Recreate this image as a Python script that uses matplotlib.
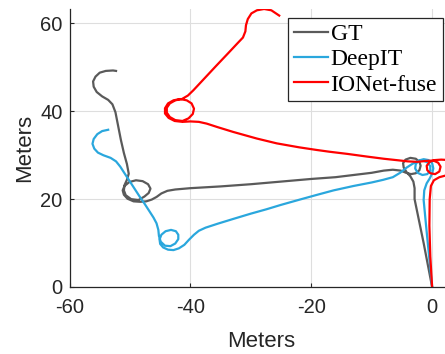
import matplotlib
matplotlib.use('Agg')
import matplotlib.pyplot as plt

matplotlib.rcParams['axes.unicode_minus'] = False  # plain hyphen like the original

# trajectories in meters
gt_x = [0, -1.4, -2.9, -2.9, -3.1, -3.6, -4.2, -4.7, -4.8, -4.4, -3.6, -2.7, -2.1, -1.9,
        -2.1, -2.7, -3.5, -4.3, -5.2, -6.5, -8.0, -10.0, -13.0, -16.0, -20.0, -25.0,
        -30.0, -35.0, -40.0, -42.5, -43.8, -44.8, -45.6, -46.4, -47.3, -48.3, -49.4,
        -50.4, -51.0, -51.2, -50.9, -50.1, -49.0, -47.9, -47.0, -46.6, -46.9, -47.6,
        -48.6, -49.8, -50.7, -51.0, -50.9, -50.5, -50.2, -50.5, -51.0, -51.5, -52.0,
        -52.4, -52.9, -53.6, -54.6, -55.5, -56.0, -56.1, -55.7, -55.0, -54.0, -52.8, -52.3]
gt_y = [0, 10.0, 20.0, 22.5, 24.0, 25.2, 26.1, 27.2, 28.2, 29.0, 29.4, 29.2, 28.5, 27.6,
        26.6, 25.9, 25.7, 26.0, 26.5, 26.7, 26.5, 26.0, 25.5, 25.0, 24.6, 24.0,
        23.4, 22.9, 22.5, 22.2, 21.9, 21.3, 20.5, 19.9, 19.5, 19.4, 19.5,
        20.1, 21.0, 22.0, 23.0, 23.9, 24.3, 24.1, 23.4, 22.4, 21.4, 20.6,
        19.8, 20.0, 20.9, 22.0, 23.2, 24.4, 25.8, 28.0, 30.5, 33.5, 37.0,
        39.8, 41.6, 42.6, 43.4, 44.4, 45.6, 46.8, 47.9, 48.8, 49.2, 49.3, 49.2]

deepit_x = [0, -0.5, -1.0, -1.4, -1.3, -0.9, -0.4, 0.0, 0.2, 0.0, -0.6, -1.4, -2.2, -2.7,
            -2.8, -2.4, -1.6, -0.8, -0.3, -0.3, -0.8, -1.6, -2.5, -3.3, -4.2, -5.3,
            -6.5, -8.1, -10.0, -13.0, -16.3, -19.0, -21.9, -25.0, -27.4, -30.0, -32.9,
            -35.5, -37.5, -38.6, -39.4, -40.2, -41.0, -41.9, -42.8, -43.7, -44.5, -45.0,
            -45.1, -44.8, -44.1, -43.2, -42.4, -42.0, -42.0, -42.5, -43.3, -44.2, -44.9,
            -45.2, -45.3, -45.6, -46.1, -46.8, -47.6, -48.4, -49.2, -50.0, -50.9, -51.6,
            -52.3, -53.2, -54.4, -55.3, -55.9, -56.2, -56.0, -55.4, -54.6, -53.6]
deepit_y = [0, 7.0, 14.0, 19.8, 22.0, 23.6, 24.7, 25.8, 27.0, 28.2, 28.9, 29.1, 28.8, 28.0,
            27.0, 26.0, 25.5, 25.7, 26.5, 27.5, 28.4, 28.8, 28.6, 28.0, 27.2, 26.0,
            25.0, 24.4, 23.8, 23.0, 22.0, 21.0, 19.9, 18.7, 17.7, 16.7, 15.5,
            14.4, 13.5, 12.8, 11.9, 10.8, 9.6, 8.8, 8.4, 8.5, 9.0, 9.8,
            10.8, 11.9, 12.7, 13.0, 12.7, 11.9, 10.9, 9.9, 9.3, 9.4, 10.3,
            11.6, 13.0, 14.5, 15.8, 17.3, 19.0, 20.6, 22.3, 24.0, 25.9, 27.4,
            28.6, 29.4, 30.0, 30.6, 31.5, 32.6, 33.7, 34.8, 35.5, 35.8]

ionet_x = [0, -0.3, -0.45, -0.4, -0.2, 0.3, 1.2, 2.3, 3.3, 3.9, 3.6, 2.8, 1.5, 0.5, -0.4,
           -0.9, -0.8, -0.3, 0.5, 1.2, 1.4, 1.0, 0.2, -1.0, -2.5, -4.0, -5.3, -8.0, -10.8,
           -14.0, -17.0, -19.1, -22.0, -25.7, -29.0, -32.9, -35.5, -37.3, -38.6, -40.0,
           -41.3, -42.6, -43.6, -44.2, -44.2, -43.7, -42.8, -41.7, -40.6, -39.8, -39.4,
           -39.6, -40.3, -41.3, -42.5, -43.4, -43.9, -43.9, -43.4, -42.5, -41.4, -40.4,
           -39.5, -37.6, -35.7, -33.7, -32.2, -31.3,
           -30.9, -30.8, -30.5, -29.9, -29.0, -27.8, -26.6, -25.3]
ionet_y = [0, 7.0, 14.0, 20.0, 23.0, 24.3, 25.0, 25.4, 25.9, 27.0, 28.3, 28.9, 29.0, 28.9, 28.5,
           27.6, 26.6, 25.9, 25.7, 26.3, 27.4, 28.3, 28.8, 28.7, 28.5, 28.6, 28.8, 29.2, 29.7,
           30.3, 30.8, 31.2, 31.8, 32.7, 33.8, 35.3, 36.4, 37.2, 37.6, 37.7,
           37.6, 37.8, 38.5, 39.5, 40.7, 41.8, 42.5, 42.8, 42.5, 41.8, 40.6,
           39.4, 38.4, 37.8, 38.0, 38.7, 39.7, 40.8, 41.8, 42.5, 42.8, 43.6,
           44.8, 47.6, 50.4, 53.3, 55.5, 56.8,
           58.2, 59.6, 61.0, 62.3, 63.0, 63.3, 63.0, 61.8]

labels = ['GT', 'DeepIT', 'IONet-fuse']
colors = ['#5a5a5a', '#2aa7dd', '#ff0000']

plt.rcParams['font.family'] = ['Liberation Sans', 'DejaVu Sans']

fig = plt.figure(figsize=(4.45, 3.54), dpi=100)
ax = fig.add_axes([0.1562, 0.1893, 0.861, 0.7853])

ax.plot(gt_x, gt_y, color=colors[0], lw=1.6, label=labels[0])
ax.plot(deepit_x, deepit_y, color=colors[1], lw=1.6, label=labels[1])
ax.plot(ionet_x, ionet_y, color=colors[2], lw=1.6, label=labels[2])

ax.set_xlim(-60, 3.4)
ax.set_ylim(0, 63.3)
ax.set_xticks([-60, -40, -20, 0])
ax.set_yticks([0, 20, 40, 60])
ax.grid(True, color='#dedede', lw=0.8)
ax.set_axisbelow(True)
for s in ['top', 'right']:
    ax.spines[s].set_visible(False)
for s in ['left', 'bottom']:
    ax.spines[s].set_color('#262626')
    ax.spines[s].set_linewidth(0.9)
ax.tick_params(direction='in', length=3, colors='#262626', labelsize=14.5)
ax.tick_params(axis='x', pad=8)
ax.tick_params(axis='y', pad=5)
ax.set_xlabel('Meters', fontsize=16, color='#262626', labelpad=10)
ax.set_ylabel('Meters', fontsize=16, color='#262626', labelpad=4)

leg = ax.legend(loc='upper right', bbox_to_anchor=(443 / 445, 1 - 18 / 354),
                bbox_transform=fig.transFigure,
                prop={'family': 'Liberation Serif', 'size': 17},
                frameon=True, fancybox=False, edgecolor='#262626', framealpha=1,
                handlelength=1.45, handletextpad=0.1, labelspacing=0.15,
                borderpad=0.25, borderaxespad=0)
leg.get_frame().set_linewidth(0.9)

fig.savefig('out.png', dpi=100)
